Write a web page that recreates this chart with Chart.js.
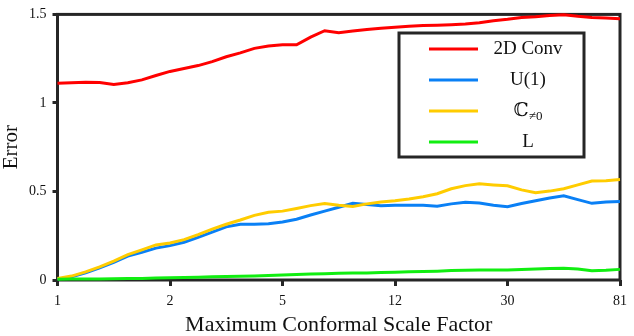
<!DOCTYPE html>
<html>
<head>
<meta charset="utf-8">
<script src="https://cdn.jsdelivr.net/npm/chart.js@4"></script>
<style>
  html, body { margin: 0; padding: 0; background: #fff; }
  #wrap { width: 634px; height: 336px; }
</style>
</head>
<body>
<div id="wrap"><canvas id="errChart" width="634" height="336"></canvas></div>
<script>
// x ticks: 41 scale factors sampled evenly on a log scale from 1 to 81
const tickLabels = ['1', '2', '5', '12', '30', '81'];
const seriesNames = ['2D Conv', 'U(1)', 'ℂ_{≠0}', 'L'];
const seriesColors = ['#ff0000', '#0a80f5', '#ffcc00', '#11ee11'];

const conv2d = [1.111, 1.114, 1.117, 1.115, 1.104, 1.114, 1.130, 1.155, 1.178, 1.194,
  1.211, 1.233, 1.261, 1.283, 1.308, 1.322, 1.328, 1.328, 1.372, 1.408,
  1.397, 1.406, 1.415, 1.422, 1.428, 1.433, 1.437, 1.439, 1.442, 1.446,
  1.453, 1.464, 1.472, 1.482, 1.487, 1.494, 1.498, 1.489, 1.482, 1.479, 1.476];
const u1 = [0.005, 0.018, 0.040, 0.068, 0.100, 0.135, 0.157, 0.180, 0.194, 0.213,
  0.241, 0.270, 0.300, 0.315, 0.315, 0.318, 0.328, 0.343, 0.367, 0.389,
  0.411, 0.433, 0.426, 0.420, 0.422, 0.422, 0.422, 0.417, 0.430, 0.439,
  0.435, 0.422, 0.414, 0.432, 0.448, 0.463, 0.476, 0.454, 0.433, 0.441, 0.444];
const cNonZero = [0.009, 0.022, 0.046, 0.074, 0.107, 0.143, 0.170, 0.198, 0.209, 0.228,
  0.256, 0.287, 0.315, 0.339, 0.365, 0.383, 0.389, 0.404, 0.420, 0.432,
  0.422, 0.415, 0.430, 0.441, 0.448, 0.457, 0.470, 0.487, 0.515, 0.533,
  0.543, 0.537, 0.532, 0.509, 0.493, 0.502, 0.515, 0.537, 0.559, 0.561, 0.567];
const lGroup = [0.004, 0.005, 0.006, 0.006, 0.007, 0.008, 0.009, 0.011, 0.013, 0.014,
  0.016, 0.018, 0.020, 0.021, 0.023, 0.025, 0.028, 0.031, 0.034, 0.036,
  0.038, 0.039, 0.040, 0.042, 0.044, 0.046, 0.048, 0.050, 0.053, 0.055,
  0.056, 0.056, 0.056, 0.059, 0.062, 0.065, 0.067, 0.062, 0.052, 0.055, 0.060];

const allSeries = [conv2d, u1, cNonZero, lGroup];
const frameColor = '#262626';
const serif = "'Liberation Serif', 'DejaVu Serif', serif";

// frame round the plot area
const framePlugin = {
    id: 'frame',
    beforeDatasetsDraw(chart) {
        const { ctx, chartArea: a } = chart;
        ctx.save();
        ctx.strokeStyle = frameColor;
        ctx.lineWidth = 3;
        ctx.strokeRect(a.left, a.top, a.right - a.left, a.bottom - a.top);
        ctx.restore();
    }
};

// boxed legend inside the plot, like the original figure
const boxLegend = {
    id: 'boxLegend',
    afterDatasetsDraw(chart) {
        const ctx = chart.ctx;
        const box = { x: 399, y: 33, w: 185, h: 124 };
        ctx.save();
        ctx.fillStyle = '#fff';
        ctx.fillRect(box.x, box.y, box.w, box.h);
        ctx.strokeStyle = frameColor;
        ctx.lineWidth = 3;
        ctx.strokeRect(box.x, box.y, box.w, box.h);

        chart.data.datasets.forEach((ds, i) => {
            const y = 49 + i * 31;
            ctx.strokeStyle = ds.borderColor;
            ctx.lineWidth = 3;
            ctx.beginPath();
            ctx.moveTo(429, y);
            ctx.lineTo(478, y);
            ctx.stroke();

            // split "main_{sub}" into main text and subscript
            const m = ds.label.match(/^(.*)_\{(.*)\}$/);
            const main = m ? m[1] : ds.label;
            const sub = m ? m[2] : '';
            ctx.fillStyle = '#111';
            ctx.textBaseline = 'middle';
            ctx.font = '19px ' + serif;
            const wMain = ctx.measureText(main).width;
            ctx.font = '13px ' + serif;
            const wSub = sub ? ctx.measureText(sub).width : 0;
            let x = 528 - (wMain + wSub) / 2;
            ctx.textAlign = 'left';
            ctx.font = '19px ' + serif;
            ctx.fillText(main, x, y);
            if (sub) {
                ctx.font = '13px ' + serif;
                ctx.fillText(sub, x + wMain, y + 6);
            }
        });
        ctx.restore();
    }
};

const ctx = document.getElementById('errChart').getContext('2d');
const errChart = new Chart(ctx, {
    type: 'line',
    data: {
        datasets: allSeries.map((vals, i) => ({
            label: seriesNames[i],
            data: vals.map((v, k) => ({ x: k, y: v })),
            borderColor: seriesColors[i],
            backgroundColor: seriesColors[i],
            borderWidth: 3,
            pointRadius: 0,
            tension: 0,
            clip: false,
            order: allSeries.length - i // later series drawn on top
        }))
    },
    options: {
        responsive: false,
        animation: false,
        layout: { padding: { top: 9.5, right: 8, left: 0, bottom: 0 } },
        scales: {
            x: {
                type: 'linear',
                min: 0,
                max: 40,
                afterFit(scale) { scale.height = 56; },
                border: { display: false },
                grid: {
                    drawOnChartArea: false,
                    drawTicks: true,
                    tickLength: 6,
                    tickWidth: 3,
                    tickColor: frameColor
                },
                ticks: {
                    stepSize: 8,
                    autoSkip: false,
                    maxRotation: 0,
                    padding: 7,
                    color: '#111',
                    font: { family: serif, size: 14 },
                    callback: (v) => tickLabels[v / 8]
                },
                title: {
                    display: true,
                    text: 'Maximum Conformal Scale Factor',
                    color: '#111',
                    font: { family: serif, size: 22, lineHeight: 1 },
                    padding: { top: 0, bottom: 0 }
                }
            },
            y: {
                min: 0,
                max: 1.5,
                afterFit(scale) { scale.width = 57.5; },
                border: { display: false },
                grid: {
                    drawOnChartArea: false,
                    drawTicks: true,
                    tickLength: 5,
                    tickWidth: 3,
                    tickColor: frameColor
                },
                ticks: {
                    stepSize: 0.5,
                    padding: 6,
                    color: '#111',
                    font: { family: serif, size: 14 },
                    callback: (v) => String(v)
                },
                title: {
                    display: true,
                    text: 'Error',
                    color: '#111',
                    font: { family: serif, size: 21, lineHeight: 1 },
                    padding: { top: 1, bottom: 0 }
                }
            }
        },
        plugins: {
            legend: { display: false },
            tooltip: { enabled: false }
        }
    },
    plugins: [framePlugin, boxLegend]
});
</script>
</body>
</html>
